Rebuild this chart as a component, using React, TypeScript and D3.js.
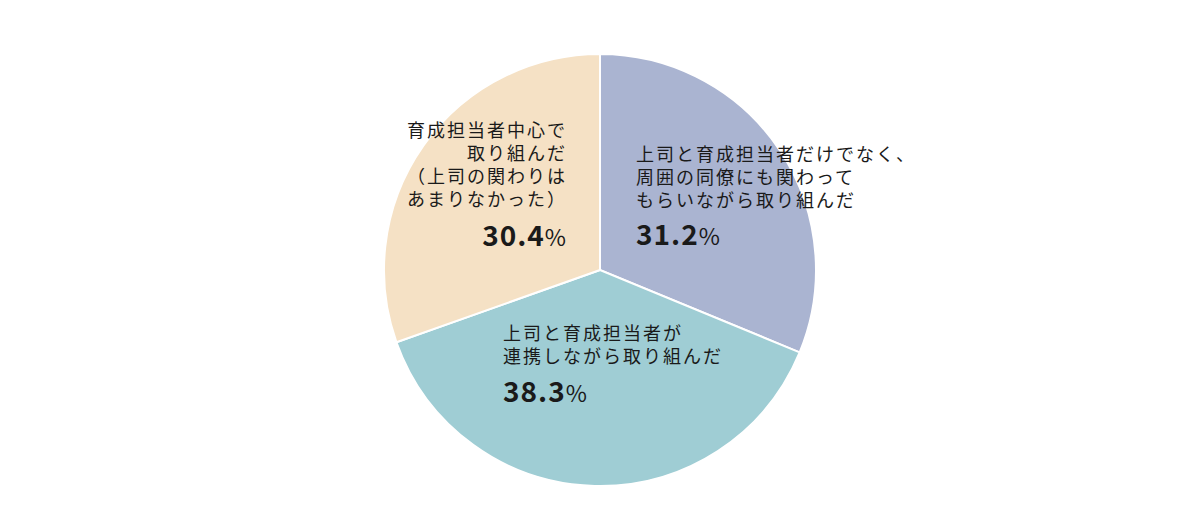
import React from "react";
import * as d3 from "d3";

const categories = [
  "上司と育成担当者だけでなく、周囲の同僚にも関わってもらいながら取り組んだ",
  "上司と育成担当者が連携しながら取り組んだ",
  "育成担当者中心で取り組んだ（上司の関わりはあまりなかった）",
];
const values = [31.2, 38.3, 30.4];
const colors = ["#aab4d1", "#9fcdd4", "#f5e1c5"];
const labelLines = [
  ["上司と育成担当者だけでなく、", "周囲の同僚にも関わって", "もらいながら取り組んだ"],
  ["上司と育成担当者が", "連携しながら取り組んだ"],
  ["育成担当者中心で", "取り組んだ", "（上司の関わりは", "あまりなかった）"],
];

const W = 1200;
const H = 526;
const cx = 600;
const cy = 270;
const R = 216;
const FONT = "'Noto Sans CJK JP', 'Noto Sans', sans-serif";

const labelPos = [
  { x: 636, y: 161, anchor: "start", pctY: 245 },
  { x: 503, y: 340, anchor: "start", pctY: 402 },
  { x: 567, y: 137, anchor: "end", pctY: 246 },
];

export default function App() {
  const pie = d3.pie<number>().sort(null).value((d) => d)(values);
  const arc = d3.arc<d3.PieArcDatum<number>>().innerRadius(0).outerRadius(R);
  return (
    <svg width={W} height={H} style={{ display: "block", position: "absolute", left: 0, top: 0 }}>
      <rect width={W} height={H} fill="#ffffff" />
      <g transform={`translate(${cx},${cy})`}>
        {pie.map((p, i) => (
          <path key={i} d={arc(p) || ""} fill={colors[i]} stroke="#ffffff" strokeWidth={2} />
        ))}
      </g>
      {labelLines.map((lines, i) => {
        const lp = labelPos[i];
        return (
          <g key={i} fontFamily={FONT} fill="#1a1a1a">
            {lines.map((l, j) => (
              <text key={j} x={lp.x} y={lp.y + j * 23} fontSize={18} letterSpacing={2} textAnchor={lp.anchor}>
                {l}
              </text>
            ))}
            <text x={lp.x} y={lp.pctY} textAnchor={lp.anchor} letterSpacing={1}>
              <tspan fontSize={28} fontWeight={700}>{values[i].toFixed(1)}</tspan>
              <tspan fontSize={23} fontWeight={400}>%</tspan>
            </text>
          </g>
        );
      })}
    </svg>
  );
}
